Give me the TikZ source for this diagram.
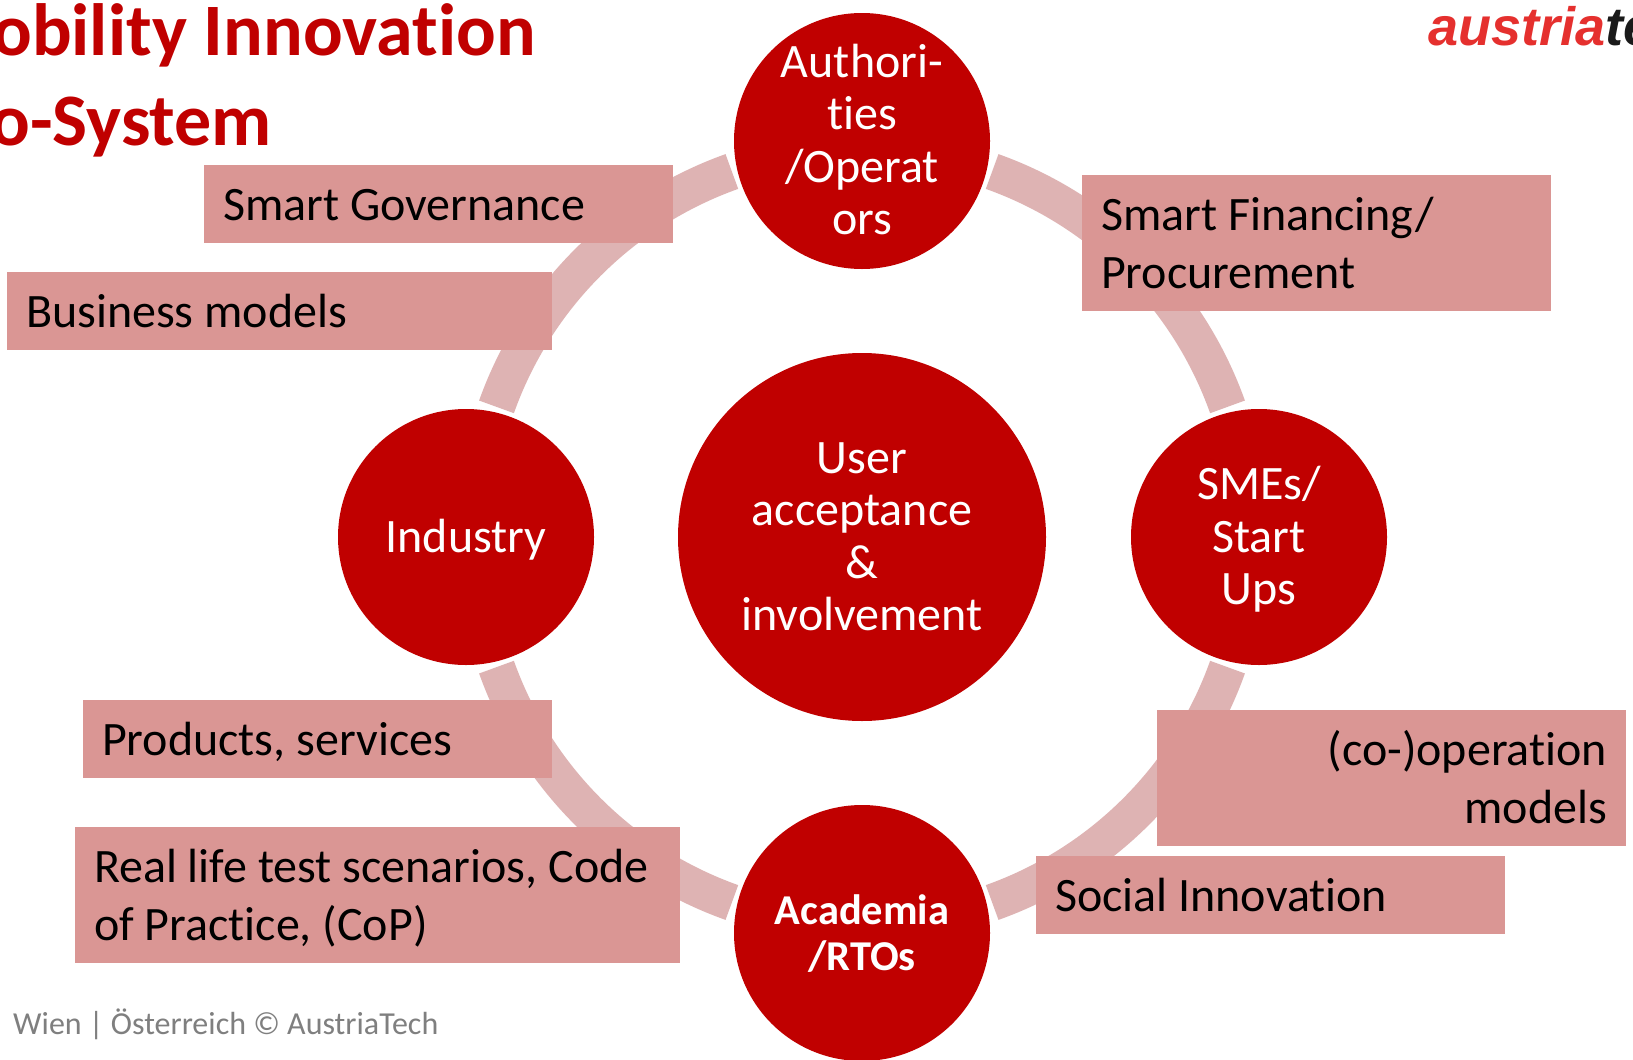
\documentclass[tikz,border=0pt]{standalone}
\usepackage{fontspec}
\setmainfont[Ligatures=NoCommon]{Carlito}
\newfontfamily\logofont{Liberation Sans}
\usetikzlibrary{calc}
\definecolor{deepred}{HTML}{C00000}
\definecolor{boxpink}{HTML}{DA9694}
\definecolor{ringpink}{HTML}{DEB3B3}
\definecolor{footgray}{HTML}{7F7F7F}
\definecolor{logored}{HTML}{E5302E}
\definecolor{logoblack}{HTML}{1A1A1A}
\newcommand{\hubstrut}{\rule[-11.3pt]{0pt}{52.6pt}}
\newcommand{\boldstrut}{\rule[-9pt]{0pt}{46pt}}
\newcommand{\tagstrut}{\rule[-12.5pt]{0pt}{57.5pt}}
\tikzset{
  hubbase/.style={circle,fill=deepred,text=white,minimum size=256pt,inner sep=-20pt,align=flush center},
  hub/.style={hubbase,text width=170pt,font=\fontsize{48}{52.6}\selectfont,execute at begin node=\hubstrut,execute at end node=\hubstrut},
  boldhub/.style={hubbase,text width=190pt,font=\fontsize{42.5}{46}\selectfont\bfseries,execute at begin node=\boldstrut,execute at end node=\boldstrut},
  tagbox/.style={fill=boxpink,text=black,anchor=north west,inner xsep=19pt,inner ysep=0pt,outer sep=0pt,font=\fontsize{48}{57.5}\selectfont,execute at begin node=\tagstrut,execute at end node=\tagstrut},
  ringarc/.style={draw=ringpink,line width=37pt,line cap=butt},
  titletext/.style={text=deepred,anchor=base west,inner sep=0pt,font=\fontsize{74}{74}\selectfont\bfseries},
}
\begin{document}
\begin{tikzpicture}[x=1pt,y=-1pt]
\useasboundingbox (0,0) rectangle (1633,1060);
\fill[white] (0,0) rectangle (1633,1060);
\coordinate (ringc) at (862,537);
% ring segments
\draw[ringarc] ($(ringc)+(19.6:388pt)$) arc[start angle=19.6,end angle=70.4,radius=388pt];
\draw[ringarc] ($(ringc)+(109.6:388pt)$) arc[start angle=109.6,end angle=160.4,radius=388pt];
\draw[ringarc] ($(ringc)+(199.6:388pt)$) arc[start angle=199.6,end angle=250.4,radius=388pt];
\draw[ringarc] ($(ringc)+(289.6:388pt)$) arc[start angle=289.6,end angle=340.4,radius=388pt];
% hubs
\node[hub] (auth) at (862,141) {Authori-\\ties\\/Operat\\ors};
\node[hub] (ind) at (466,537) {Industry};
\node[hub] (sme) at (1259,537) {SMEs/\\Start\\Ups};
\node[boldhub] (acad) at (862,933) {Academia\\/RTOs};
\node[hub,minimum size=368pt,text width=260pt] (user) at (862,537) {User\\acceptance\\\&\\involvement};
% tags
\node[tagbox,minimum width=469pt,minimum height=78pt,text width=431pt,align=flush left] (gov) at (204,165) {Smart Governance};
\node[tagbox,minimum width=545pt,minimum height=78pt,text width=507pt,align=flush left] (biz) at (7,272) {Business models};
\node[tagbox,minimum width=469pt,minimum height=136pt,text width=431pt,align=flush left] (fin) at (1082,175) {Smart Financing/\\Procurement};
\node[tagbox,minimum width=469pt,minimum height=78pt,text width=431pt,align=flush left] (prod) at (83,700) {Products, services};
\node[tagbox,minimum width=605pt,minimum height=136pt,text width=567pt,align=flush left] (real) at (75,827) {Real life test scenarios, Code\\of Practice, (CoP)};
\node[tagbox,minimum width=469pt,minimum height=136pt,text width=431pt,align=flush right] (coop) at (1157,710) {(co-)operation\\models};
\node[tagbox,minimum width=469pt,minimum height=78pt,text width=431pt,align=flush left] (soc) at (1036,856) {Social Innovation};
% title, footer, logo
\node[titletext] (tone) at (-8,55) {obility Innovation};
\node[titletext] (ttwo) at (-10,145) {o-System};
\node[anchor=base west,inner sep=0pt,text=footgray,font=\fontsize{32}{32}\selectfont] (foot) at (13,1034) {Wien | Österreich © AustriaTech};
\node[anchor=base west,inner sep=0pt,font=\logofont\fontsize{54}{54}\selectfont\bfseries\itshape] (logo) at (1428,45) {\textcolor{logored}{austria}\textcolor{logoblack}{te}};
\end{tikzpicture}
\end{document}
